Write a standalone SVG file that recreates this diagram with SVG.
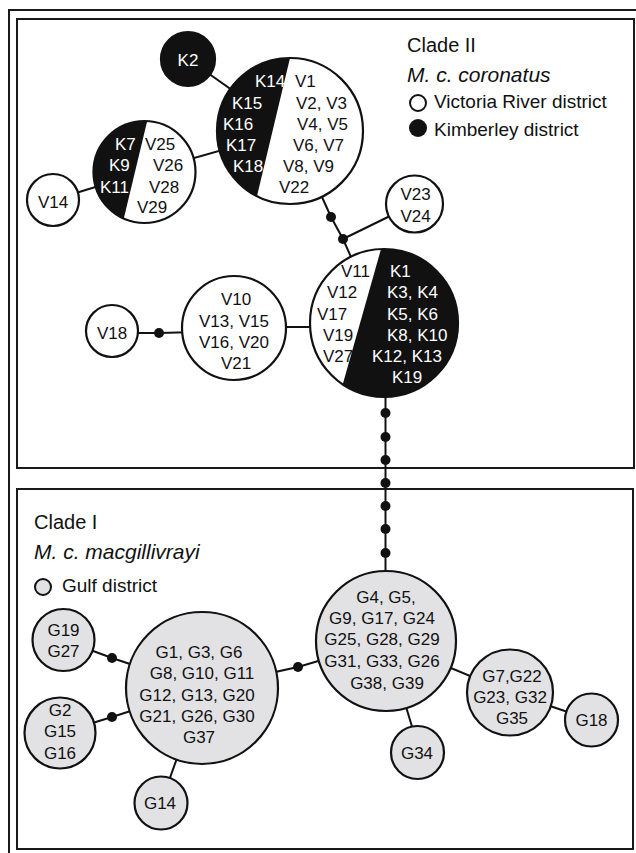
<svg xmlns="http://www.w3.org/2000/svg" width="636" height="853" viewBox="0 0 636 853">
<style>
.frame{fill:none;stroke:#1a1a1a;stroke-width:2}
.c{stroke:#111;stroke-width:2.2}
.w{fill:#fff}
.g{fill:#e2e2e4}
.k{fill:#111}
.ln{stroke:#111;stroke-width:2;fill:none}
.dot{fill:#111}
text{font-family:"Liberation Sans",Arial,sans-serif;font-size:17px;fill:#111}
.wt{fill:#fff}
.m{text-anchor:middle}
.lg{font-size:19px}
.cl{font-size:20px}
.it{font-size:21px;font-style:italic}
</style>
<path class="frame" d="M9,853 V10 H636"/>
<rect class="frame" x="17" y="19" width="617" height="449"/>
<rect class="frame" x="17" y="489" width="616" height="360"/>

<g id="connectors">
<line class="ln" x1="188" y1="59" x2="290" y2="131"/>
<line class="ln" x1="144.5" y1="172" x2="290" y2="131"/>
<line class="ln" x1="53" y1="200" x2="144.5" y2="172"/>
<polyline class="ln" points="322,197 331,217 343,239 351,257"/>
<line class="ln" x1="343" y1="239" x2="414.5" y2="204"/>
<polyline class="ln" points="112,333 159,333 234,331"/>
<line class="ln" x1="234" y1="327" x2="384" y2="327"/>
<line class="ln" x1="385.5" y1="380" x2="385.5" y2="590"/>
<polyline class="ln" points="63.5,640 112,658 202,688"/>
<polyline class="ln" points="60,733 112,717 202,688"/>
<line class="ln" x1="202" y1="688" x2="161" y2="803"/>
<polyline class="ln" points="202,688 298,667 386,641"/>
<line class="ln" x1="386" y1="641" x2="510" y2="692.5"/>
<line class="ln" x1="510" y1="692.5" x2="591.5" y2="720"/>
<line class="ln" x1="404" y1="700" x2="413" y2="730"/>
<circle class="dot" cx="331" cy="217" r="5"/>
<circle class="dot" cx="343" cy="239" r="5"/>
<circle class="dot" cx="159" cy="333" r="5"/>
<circle class="dot" cx="385.5" cy="413" r="5"/>
<circle class="dot" cx="385.5" cy="437" r="5"/>
<circle class="dot" cx="385.5" cy="460" r="5"/>
<circle class="dot" cx="385.5" cy="483" r="5"/>
<circle class="dot" cx="385.5" cy="506" r="5"/>
<circle class="dot" cx="385.5" cy="529" r="5"/>
<circle class="dot" cx="385.5" cy="553" r="5"/>
<circle class="dot" cx="112" cy="658" r="5"/>
<circle class="dot" cx="112" cy="717" r="5"/>
<circle class="dot" cx="298" cy="667" r="5"/>
</g>

<g id="legend2">
<text class="cl" x="407" y="52">Clade II</text>
<text class="it" x="407" y="82">M. c. coronatus</text>
<circle cx="418" cy="103" r="8" fill="#fff" stroke="#111" stroke-width="2"/>
<text class="lg" x="434" y="108">Victoria River district</text>
<circle cx="418" cy="128" r="9" fill="#111"/>
<text class="lg" x="434" y="136">Kimberley district</text>
</g>

<g id="legend1">
<text class="cl" x="34" y="529">Clade I</text>
<text class="it" x="34" y="559">M. c. macgillivrayi</text>
<circle cx="43" cy="587" r="8" fill="#e2e2e4" stroke="#111" stroke-width="2"/>
<text class="lg" x="62" y="592">Gulf district</text>
</g>

<g id="nK2">
<circle class="c k" cx="188" cy="59" r="27"/>
<text class="wt m" x="188" y="66">K2</text>
</g>

<g id="nTop">
<circle class="w" cx="290" cy="131" r="73"/>
<path class="k" d="M290,58 L257,196 A73,73 0 0 1 290,58 Z"/>
<circle class="c" cx="290" cy="131" r="73" fill="none"/>
<text class="wt" x="255" y="87">K14</text>
<text class="wt" x="232" y="109">K15</text>
<text class="wt" x="223" y="130">K16</text>
<text class="wt" x="226" y="151">K17</text>
<text class="wt" x="233" y="172">K18</text>
<text x="295" y="87">V1</text>
<text x="296" y="109">V2, V3</text>
<text x="297" y="130">V4, V5</text>
<text x="293" y="151">V6, V7</text>
<text x="283" y="172">V8, V9</text>
<text x="279" y="193">V22</text>
</g>

<g id="nK7">
<circle class="w" cx="144.5" cy="172" r="51"/>
<path class="k" d="M147.2,121.1 L123.8,218.6 A51,51 0 0 1 147.2,121.1 Z"/>
<circle class="c" cx="144.5" cy="172" r="51" fill="none"/>
<text class="wt" x="115" y="150">K7</text>
<text class="wt" x="109" y="171">K9</text>
<text class="wt" x="100" y="193">K11</text>
<text x="145" y="150">V25</text>
<text x="153" y="171">V26</text>
<text x="149" y="193">V28</text>
<text x="137" y="213">V29</text>
</g>

<g id="nV14">
<circle class="c w" cx="53" cy="200" r="26"/>
<text class="m" x="53" y="208">V14</text>
</g>

<g id="nV23">
<circle class="c w" cx="414.5" cy="204" r="28.5"/>
<text class="m" x="415.5" y="200">V23</text>
<text class="m" x="415.5" y="222">V24</text>
</g>

<g id="nV18">
<circle class="c w" cx="112" cy="331" r="26"/>
<text class="m" x="112" y="339">V18</text>
</g>

<g id="nV10">
<circle class="c w" cx="234" cy="328" r="52"/>
<text class="m" x="236" y="305">V10</text>
<text class="m" x="234" y="327">V13, V15</text>
<text class="m" x="234" y="348">V16, V20</text>
<text class="m" x="236" y="369">V21</text>
</g>

<g id="nK1">
<circle class="w" cx="384" cy="323" r="74"/>
<path class="k" d="M381,249.1 A74,74 0 1 1 342.7,384.4 Z"/>
<circle class="c" cx="384" cy="323" r="74" fill="none"/>
<text class="wt" x="390" y="277">K1</text>
<text class="wt" x="387" y="298">K3, K4</text>
<text class="wt" x="387" y="320">K5, K6</text>
<text class="wt" x="387" y="341">K8, K10</text>
<text class="wt" x="372" y="362">K12, K13</text>
<text class="wt" x="392" y="383">K19</text>
<text x="341" y="277">V11</text>
<text x="327" y="298">V12</text>
<text x="317" y="320">V17</text>
<text x="323" y="341">V19</text>
<text x="323" y="362">V27</text>
</g>

<g id="nG4">
<circle class="c g" cx="386" cy="641" r="70"/>
<text class="m" x="386" y="603">G4, G5,</text>
<text class="m" x="382" y="624">G9, G17, G24</text>
<text class="m" x="382" y="645">G25, G28, G29</text>
<text class="m" x="382" y="667">G31, G33, G26</text>
<text class="m" x="387" y="689">G38, G39</text>
</g>

<g id="nG1">
<circle class="c g" cx="202" cy="688" r="76"/>
<text class="m" x="199" y="658">G1, G3, G6</text>
<text class="m" x="202" y="679">G8, G10, G11</text>
<text class="m" x="197" y="701">G12, G13, G20</text>
<text class="m" x="197" y="722">G21, G26, G30</text>
<text class="m" x="199" y="743">G37</text>
</g>

<g id="nG19">
<circle class="c g" cx="63.5" cy="640" r="31"/>
<text class="m" x="63.5" y="636">G19</text>
<text class="m" x="63.5" y="657">G27</text>
</g>

<g id="nG2">
<circle class="c g" cx="60" cy="733" r="35.5"/>
<text class="m" x="60" y="716">G2</text>
<text class="m" x="60" y="737">G15</text>
<text class="m" x="60" y="759">G16</text>
</g>

<g id="nG14">
<circle class="c g" cx="161" cy="803" r="26.5"/>
<text class="m" x="160" y="809">G14</text>
</g>

<g id="nG7">
<circle class="c g" cx="510" cy="692.5" r="43"/>
<text class="m" x="512" y="682">G7,G22</text>
<text class="m" x="510" y="703">G23, G32</text>
<text class="m" x="512" y="724">G35</text>
</g>

<g id="nG18">
<circle class="c g" cx="591.5" cy="720" r="26.5"/>
<text class="m" x="591.5" y="726">G18</text>
</g>

<g id="nG34">
<circle class="c g" cx="417.5" cy="752.5" r="26.5"/>
<text class="m" x="417" y="759">G34</text>
</g>
</svg>
